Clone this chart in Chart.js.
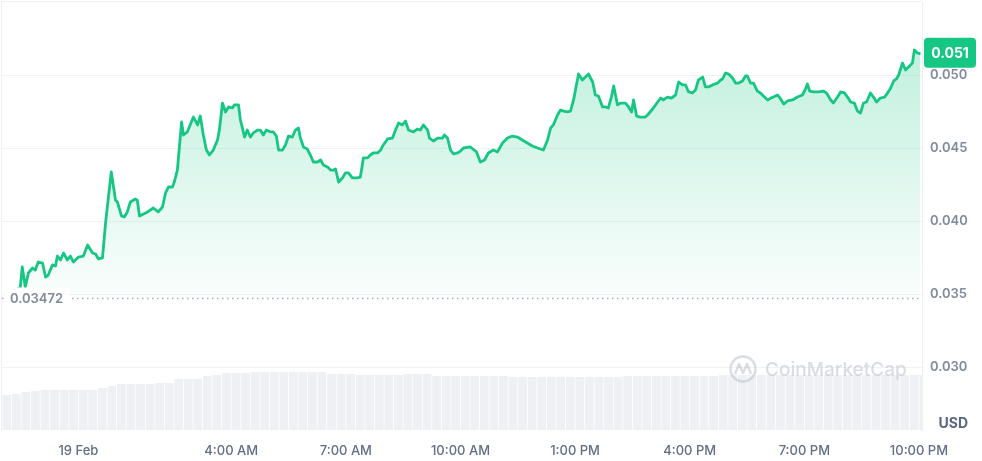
<!DOCTYPE html>
<html><head><meta charset="utf-8">
<script src="https://cdn.jsdelivr.net/npm/chart.js@4"></script>
<style>html,body{margin:0;padding:0;background:#fff}#wrap{width:982px;height:461px}</style>
</head><body><div id="wrap"><canvas id="c" width="982" height="461"></canvas></div>
<script>
// time in hours relative to 19 Feb 00:00
const hours = [
 -1.88,-1.83,-1.78,-1.68,-1.60,-1.52,-1.47,-1.39,-1.31,-1.20,
 -1.13,-1.05,-0.94,-0.86,-0.79,-0.68,-0.60,-0.55,-0.47,-0.39,
 -0.29,-0.21,-0.13,0.00,0.13,0.24,0.37,0.45,0.52,0.63,
 0.71,0.86,0.97,1.02,1.13,1.20,1.28,1.36,1.49,1.54,
 1.60,1.81,1.96,2.09,2.20,2.28,2.36,2.46,2.51,2.59,
 2.70,2.75,2.85,3.01,3.12,3.19,3.27,3.35,3.43,3.53,
 3.64,3.69,3.77,3.85,3.93,4.03,4.08,4.19,4.24,4.35,
 4.42,4.50,4.58,4.69,4.76,4.84,4.92,5.03,5.10,5.18,
 5.24,5.34,5.42,5.50,5.60,5.68,5.76,5.81,5.89,5.99,
 6.07,6.15,6.26,6.34,6.41,6.52,6.60,6.68,6.73,6.81,
 6.91,6.99,7.07,7.17,7.30,7.38,7.46,7.57,7.64,7.72,
 7.83,7.91,7.98,8.09,8.22,8.30,8.38,8.48,8.56,8.64,
 8.77,8.87,8.95,9.03,9.14,9.19,9.29,9.40,9.53,9.58,
 9.66,9.74,9.82,9.92,10.00,10.08,10.26,10.42,10.52,10.63,
 10.73,10.86,10.97,11.10,11.23,11.36,11.49,11.62,11.75,11.88,
 12.02,12.17,12.28,12.36,12.43,12.54,12.62,12.70,12.80,12.88,
 12.96,13.09,13.19,13.27,13.35,13.46,13.53,13.61,13.72,13.80,
 13.87,13.95,14.01,14.11,14.19,14.32,14.40,14.48,14.53,14.61,
 14.71,14.84,14.92,15.05,15.16,15.24,15.31,15.42,15.52,15.63,
 15.71,15.81,15.89,15.97,16.07,16.15,16.23,16.34,16.41,16.49,
 16.60,16.73,16.81,16.86,16.94,17.02,17.12,17.20,17.28,17.38,
 17.46,17.51,17.59,17.67,17.77,17.85,17.93,18.04,18.12,18.19,
 18.30,18.38,18.46,18.56,18.69,18.82,18.95,19.03,19.08,19.14,
 19.24,19.37,19.50,19.58,19.69,19.76,19.87,19.95,20.05,20.13,
 20.21,20.31,20.39,20.47,20.55,20.63,20.73,20.81,20.89,20.99,
 21.10,21.18,21.26,21.34,21.41,21.47,21.57,21.65,21.73,21.83,
 21.88,21.96,22.04
];
const prices = [
 0.03472,0.03486,0.03507,0.03493,0.03527,0.03548,0.03685,0.03548,0.03644,0.03678,
 0.03664,0.03719,0.03712,0.03616,0.03630,0.03699,0.03692,0.03760,0.03733,0.03781,
 0.03733,0.03760,0.03719,0.03753,0.03760,0.03836,0.03781,0.03774,0.03740,0.03747,
 0.03986,0.04336,0.04144,0.04130,0.04034,0.04027,0.04062,0.04130,0.04151,0.04144,
 0.04034,0.04062,0.04089,0.04062,0.04096,0.04192,0.04233,0.04233,0.04267,0.04349,
 0.04678,0.04589,0.04610,0.04712,0.04658,0.04719,0.04589,0.04486,0.04452,0.04486,
 0.04555,0.04623,0.04808,0.04747,0.04781,0.04774,0.04795,0.04795,0.04692,0.04575,
 0.04623,0.04575,0.04603,0.04623,0.04623,0.04589,0.04623,0.04610,0.04610,0.04582,
 0.04486,0.04486,0.04521,0.04582,0.04575,0.04623,0.04637,0.04568,0.04507,0.04493,
 0.04452,0.04404,0.04404,0.04418,0.04384,0.04370,0.04349,0.04349,0.04356,0.04267,
 0.04295,0.04329,0.04329,0.04295,0.04295,0.04301,0.04432,0.04432,0.04452,0.04466,
 0.04466,0.04486,0.04521,0.04562,0.04568,0.04623,0.04671,0.04658,0.04685,0.04623,
 0.04610,0.04630,0.04623,0.04658,0.04623,0.04568,0.04548,0.04568,0.04568,0.04589,
 0.04568,0.04486,0.04459,0.04466,0.04479,0.04500,0.04507,0.04473,0.04404,0.04418,
 0.04466,0.04486,0.04473,0.04534,0.04568,0.04582,0.04575,0.04555,0.04534,0.04514,
 0.04500,0.04486,0.04555,0.04637,0.04658,0.04726,0.04760,0.04753,0.04747,0.04753,
 0.04829,0.05007,0.04966,0.04986,0.05007,0.04952,0.04863,0.04856,0.04781,0.04781,
 0.04774,0.04849,0.04925,0.04795,0.04808,0.04808,0.04781,0.04747,0.04829,0.04719,
 0.04712,0.04712,0.04733,0.04774,0.04815,0.04842,0.04829,0.04849,0.04842,0.04863,
 0.04952,0.04932,0.04932,0.04884,0.04877,0.04897,0.04966,0.04986,0.04918,0.04918,
 0.04932,0.04945,0.04966,0.04973,0.05014,0.05007,0.04979,0.04945,0.04945,0.04959,
 0.04993,0.04993,0.04945,0.04945,0.04890,0.04877,0.04856,0.04829,0.04842,0.04849,
 0.04863,0.04836,0.04801,0.04822,0.04829,0.04849,0.04863,0.04904,0.04938,0.04890,
 0.04884,0.04884,0.04890,0.04877,0.04829,0.04808,0.04849,0.04884,0.04877,0.04849,
 0.04815,0.04808,0.04753,0.04740,0.04808,0.04815,0.04877,0.04849,0.04815,0.04842,
 0.04849,0.04877,0.04911,0.04959,0.04973,0.05000,0.05082,0.05034,0.05055,0.05082,
 0.05171,0.05151,0.05145
];
// volume (millions), one bar per 15 minutes starting at -2h
const volStart = -2;
const volStep = 0.25;
const volumes = [
 3.5,3.6,3.8,3.9,4.0,4.0,4.0,4.0,4.0,4.0,
 4.2,4.4,4.6,4.6,4.6,4.6,4.7,4.7,5.1,5.1,
 5.1,5.4,5.5,5.7,5.7,5.7,5.8,5.8,5.8,5.8,
 5.8,5.8,5.8,5.8,5.6,5.6,5.6,5.5,5.5,5.5,
 5.5,5.5,5.6,5.6,5.6,5.4,5.4,5.4,5.4,5.4,
 5.4,5.4,5.4,5.3,5.3,5.3,5.3,5.3,5.3,5.3,
 5.3,5.3,5.3,5.3,5.3,5.4,5.4,5.4,5.4,5.4,
 5.4,5.4,5.4,5.4,5.4,5.5,5.5,5.5,5.5,5.5,
 5.5,5.5,5.5,5.5,5.5,5.5,5.5,5.5,5.5,5.5,
 5.5,5.5,5.5,5.5,5.5,5.5,5.5
];
const tickHours = [0, 4, 7, 10, 13, 16, 19, 22];
const tickLabels = ['19 Feb', '4:00 AM', '7:00 AM', '10:00 AM', '1:00 PM', '4:00 PM', '7:00 PM', '10:00 PM'];
const priceTicks = [0.030, 0.035, 0.040, 0.045, 0.050];
const currency = 'USD';
const watermark = 'CoinMarketCap';

const FONT = 'Inter, "Noto Sans", sans-serif';
Chart.defaults.font.family = FONT;
const GREEN = '#16c784';
const baseline = prices[0];

const framePlugin = {
  id: 'frame',
  beforeDatasetsDraw(chart) {
    const {ctx, chartArea: a} = chart;
    ctx.save();
    ctx.strokeStyle = '#eceff3';
    ctx.lineWidth = 1;
    ctx.beginPath();
    ctx.moveTo(a.left - 0.5, a.bottom);
    ctx.lineTo(a.left - 0.5, a.top - 0.5);
    ctx.lineTo(a.right, a.top - 0.5);
    ctx.stroke();
    ctx.restore();
  },
  afterDatasetsDraw(chart) {
    const {ctx, chartArea: a, scales} = chart;
    const yb = Math.round(scales.y.getPixelForValue(baseline)) + 0.5;
    ctx.save();
    // watermark
    ctx.globalAlpha = 0.55;
    ctx.strokeStyle = '#b9c0cb';
    ctx.fillStyle = '#b9c0cb';
    const cx = a.right - 179, cy = a.bottom - 61;
    ctx.lineWidth = 2.4;
    ctx.beginPath(); ctx.arc(cx, cy, 12.5, 0, Math.PI * 2); ctx.stroke();
    ctx.beginPath();
    ctx.moveTo(cx - 8, cy + 5);
    ctx.lineTo(cx - 4, cy - 5);
    ctx.lineTo(cx, cy + 4);
    ctx.lineTo(cx + 4, cy - 5);
    ctx.lineTo(cx + 8, cy + 5);
    ctx.lineJoin = 'round';
    ctx.stroke();
    ctx.font = '500 19px ' + FONT;
    ctx.textAlign = 'left';
    ctx.textBaseline = 'middle';
    ctx.fillText(watermark, cx + 22, cy + 1);
    ctx.globalAlpha = 1;
    // baseline
    ctx.strokeStyle = '#a6adbb';
    ctx.lineWidth = 1.5;
    ctx.setLineDash([1.5, 3.5]);
    ctx.beginPath();
    ctx.moveTo(a.left, yb);
    ctx.lineTo(a.right, yb);
    ctx.stroke();
    ctx.setLineDash([]);
    ctx.font = '600 13px ' + FONT;
    const label = baseline.toFixed(5);
    const w = ctx.measureText(label).width;
    ctx.fillStyle = '#ffffff';
    ctx.beginPath();
    ctx.roundRect(a.left + 2, yb - 11, w + 12, 23, 3);
    ctx.fill();
    ctx.fillStyle = '#808a9d';
    ctx.textAlign = 'left';
    ctx.textBaseline = 'middle';
    ctx.fillText(label, a.left + 8, yb + 1);
    ctx.restore();
  },
  afterDraw(chart) {
    const {ctx, chartArea: a, scales} = chart;
    const last = prices[prices.length - 1];
    const yl = scales.y.getPixelForValue(last);
    ctx.save();
    ctx.fillStyle = GREEN;
    ctx.beginPath();
    ctx.roundRect(a.right + 2, yl - 16, 52, 30, 4);
    ctx.fill();
    ctx.fillStyle = '#ffffff';
    ctx.font = '700 14px ' + FONT;
    ctx.textAlign = 'center';
    ctx.textBaseline = 'middle';
    ctx.fillText(last.toFixed(3), a.right + 28, yl);
    ctx.fillStyle = '#58667e';
    ctx.font = '700 14px ' + FONT;
    ctx.textAlign = 'right';
    ctx.fillText(currency, a.right + 46, a.bottom - 6);
    ctx.restore();
  }
};

const ctx = document.getElementById('c').getContext('2d');
new Chart(ctx, {
  type: 'line',
  data: {
    datasets: [
      {
        type: 'line',
        data: hours.map((h, i) => ({x: h, y: prices[i]})),
        borderColor: GREEN,
        borderWidth: 2.8,
        pointRadius: 0,
        tension: 0,
        borderJoinStyle: 'round',
        fill: {value: baseline},
        backgroundColor: (c) => {
          const ch = c.chart, a = ch.chartArea;
          if (!a) return 'rgba(22,199,132,0.1)';
          const yb = ch.scales.y.getPixelForValue(baseline);
          const g = ch.ctx.createLinearGradient(0, a.top, 0, yb);
          g.addColorStop(0, 'rgba(22,199,132,0.31)');
          g.addColorStop(1, 'rgba(22,199,132,0.02)');
          return g;
        },
        yAxisID: 'y',
        order: 1
      },
      {
        type: 'bar',
        data: volumes.map((v, i) => ({x: volStart + volStep * (i + 0.5), y: v})),
        backgroundColor: '#eef0f4',
        borderWidth: 0,
        barPercentage: 0.92,
        categoryPercentage: 1,
        yAxisID: 'vol',
        order: 2
      }
    ]
  },
  options: {
    responsive: false,
    animation: false,
    devicePixelRatio: 1,
    layout: {padding: {left: 2, top: 2, right: 0, bottom: 0}},
    plugins: {legend: {display: false}, tooltip: {enabled: false}},
    scales: {
      x: {
        type: 'linear', min: -2, max: 22.08, offset: false,
        grid: {display: false, drawTicks: false, offset: false},
        border: {display: false},
        afterBuildTicks: (s) => { s.ticks = tickHours.map(v => ({value: v})); },
        ticks: {
          callback: (v, i) => tickLabels[i],
          color: '#616e85', font: {size: 13, weight: '500'},
          padding: 13, maxRotation: 0, autoSkip: false
        },
        afterFit: (s) => { s.height = 31; s.paddingLeft = 0; s.paddingRight = 0; }
      },
      y: {
        type: 'linear', position: 'right', min: 0.025685, max: 0.055,
        afterBuildTicks: (s) => { s.ticks = priceTicks.map(v => ({value: v})); },
        ticks: {callback: (v) => v.toFixed(3), color: '#808a9d', font: {size: 13, weight: '600'}, padding: 8},
        grid: {color: '#f0f2f5', drawTicks: false},
        border: {display: true, color: '#eceff3'},
        afterFit: (s) => { s.width = 60; s.paddingTop = 0; s.paddingBottom = 0; }
      },
      vol: {type: 'linear', axis: 'y', display: false, min: 0, max: 42.8}
    }
  },
  plugins: [framePlugin]
});
</script></body></html>
